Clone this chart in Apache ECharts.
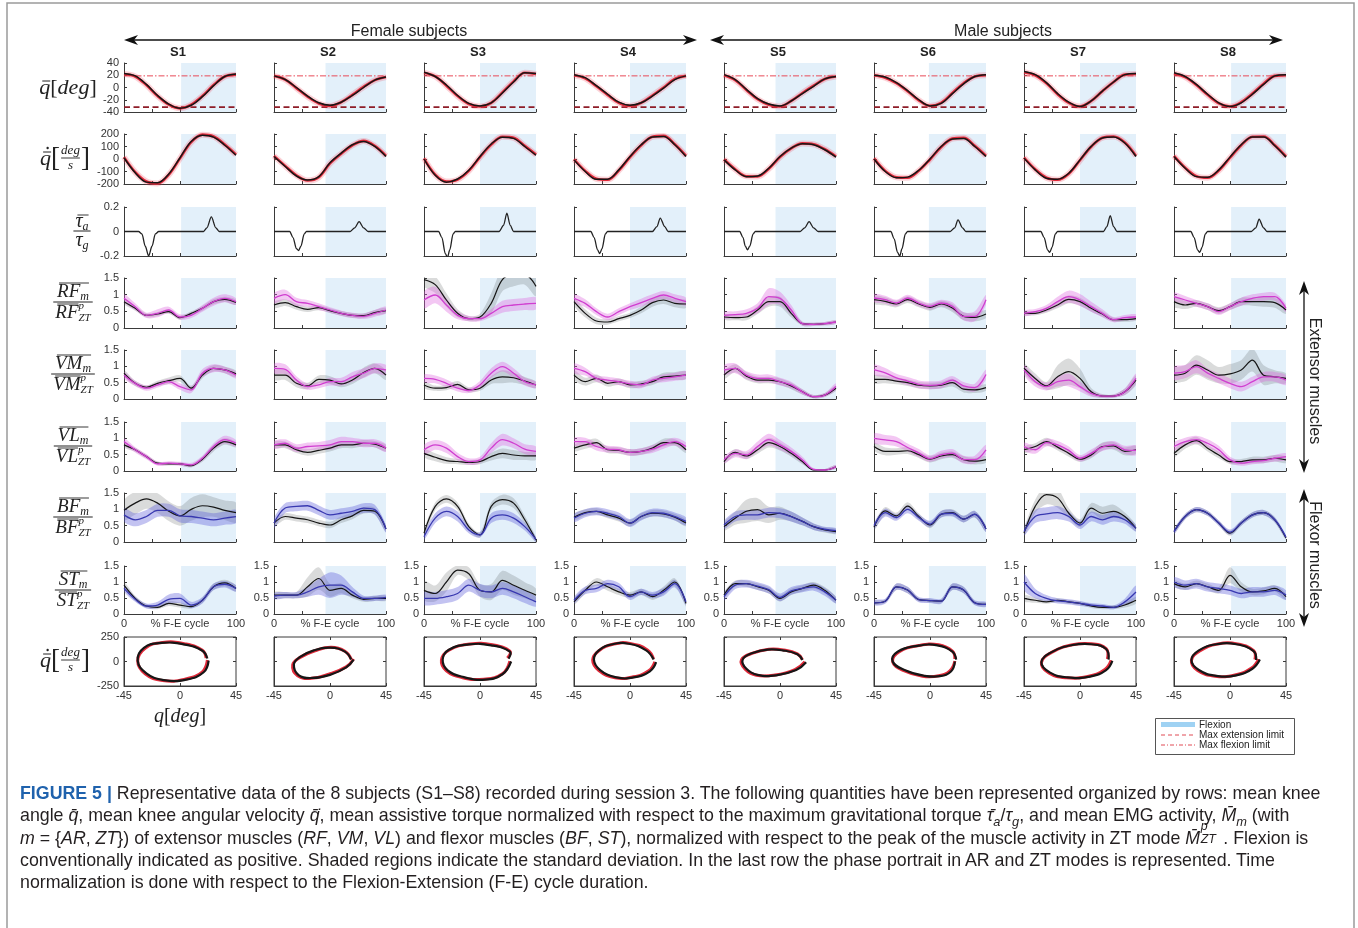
<!DOCTYPE html>
<html><head><meta charset="utf-8">
<script src="https://cdn.jsdelivr.net/npm/echarts@6.0.0/dist/echarts.min.js"></script>
<style>
html,body{margin:0;padding:0;background:#fff;}
#main{position:absolute;left:0;top:0;width:1358px;height:928px;}
#cap{position:absolute;left:20px;top:782px;font-family:"Liberation Sans",Arial,sans-serif;font-size:17.8px;line-height:22px;color:#231f20;white-space:nowrap;}
#cap b{color:#1f62ad;}
#cap sub,#cap sup{font-size:0.72em;line-height:0;}
#cap .ss{display:inline-block;position:relative;width:1.3em;height:1em;line-height:1;}
#cap .ss i{position:absolute;left:0.05em;font-size:0.7em;line-height:1;}
#cap .ss .p{top:-0.45em;}
#cap .ss .z{top:0.55em;}
</style></head><body>
<div id="main"></div>
<div id="cap">
<b>FIGURE 5 |</b> Representative data of the 8 subjects (S1–S8) recorded during session 3. The following quantities have been represented organized by rows: mean knee<br>
angle <i>q&#772;</i>, mean knee angular velocity <i>q&#772;&#775;</i>, mean assistive torque normalized with respect to the maximum gravitational torque <i>τ&#772;<sub>a</sub></i>/<i>τ<sub>g</sub></i>, and mean EMG activity, <i>M&#772;<sub>m</sub></i> (with<br>
<i>m</i> = {<i>AR</i>, <i>ZT</i>}) of extensor muscles (<i>RF</i>, <i>VM</i>, <i>VL</i>) and flexor muscles (<i>BF</i>, <i>ST</i>), normalized with respect to the peak of the muscle activity in ZT mode <i>M&#772;</i><span class="ss"><i class="p">p</i><i class="z">ZT</i></span>. Flexion is<br>
conventionally indicated as positive. Shaded regions indicate the standard deviation. In the last row the phase portrait in AR and ZT modes is represented. Time<br>
normalization is done with respect to the Flexion-Extension (F-E) cycle duration.
</div>
<script>
// ================= DATA =================
const SUBJECTS = ['S1','S2','S3','S4','S5','S6','S7','S8'];
const PCT = [0,10,20,30,40,50,60,70,80,90,100];           // % F-E cycle sample points
const PCT_TICKS = [0,25,50,75,100];
const Q_TICKS = [-40,-20,0,20,40];
const QD_TICKS = [-200,-100,0,100,200];
const TQ_TICKS = [-0.2,0,0.2];
const EMG_TICKS = [0,0.5,1,1.5];
const PH_Q_TICKS = [-45,0,45];
const PH_QD_TICKS = [-250,0,250];
const FLEX_START = [51,46,50,50,46,49,50,51];   // start of flexion phase (%)
const FLEX_END = [100,100,100,100,100,100,100,100];
const LIM_FLEX = [19,19,19,19,19,19,19,19];     // max flexion limit (deg)
const LIM_EXT = [-32,-32,-32,-32,-32,-32,-32,-32]; // max extension limit (deg)

// knee angle (deg)
const Q_ZT = [
 [23,19,5,-13,-27,-34,-29,-15,3,18,22],
 [19,13,0,-14,-25,-29,-24,-13,0,12,17],
 [25,18,4,-13,-26,-30,-25,-9,9,24,23],
 [21,16,3,-11,-24,-29,-25,-14,-1,13,19],
 [21,13,-3,-18,-27,-30,-22,-10,2,14,18],
 [20,17,8,-5,-20,-30,-26,-10,6,18,21],
 [26,21,8,-10,-24,-31,-22,-6,9,21,23],
 [24,18,5,-11,-25,-31,-25,-11,5,19,21]];
const Q_AR = [
 [22,18,4,-14,-28,-34,-28,-14,4,18,21],
 [19,13,-1,-15,-26,-30,-24,-12,1,12,17],
 [24,18,3,-14,-27,-31,-25,-8,10,24,22],
 [20,15,2,-12,-25,-30,-25,-13,0,14,19],
 [20,12,-4,-19,-28,-31,-22,-9,3,14,18],
 [20,16,7,-6,-21,-30,-25,-9,7,18,20],
 [25,20,7,-11,-25,-31,-22,-6,9,21,22],
 [23,17,4,-12,-26,-31,-24,-10,6,19,20]];
// knee angular velocity (deg/s)
const QD_ZT = [
 [10,-110,-185,-190,-120,10,140,190,175,110,30],
 [20,-60,-136,-168,-141,-30,47,114,141,101,20],
 [0,-130,-185,-160,-90,20,120,175,165,100,30],
 [-7,-100,-162,-162,-87,20,114,176,181,114,20],
 [-7,-87,-141,-136,-74,20,87,122,114,74,15],
 [0,-100,-150,-145,-90,0,100,160,165,100,20],
 [7,-87,-154,-162,-114,-7,101,168,176,128,20],
 [20,-74,-141,-146,-87,15,114,176,176,106,15]];
const QD_AR = [
 [15,-105,-180,-195,-125,5,135,195,180,115,35],
 [25,-55,-130,-172,-146,-35,42,110,145,105,25],
 [5,-125,-180,-165,-95,15,115,178,170,105,35],
 [-2,-95,-158,-166,-92,15,110,178,185,118,25],
 [-2,-82,-138,-140,-78,16,85,125,118,78,20],
 [5,-95,-146,-150,-94,-4,96,163,170,105,25],
 [12,-82,-150,-166,-118,-10,98,170,180,132,25],
 [25,-70,-137,-150,-92,10,110,178,180,110,20]];
// assistive torque / gravitational torque, [% cycle, value]
const TQ = [
 [[0,0],[13,0],[16,-0.02],[19,-0.12],[22,-0.2],[25,-0.12],[28,-0.02],[31,0],[71,0],[74,0.03],[78,0.12],[82,0.03],[85,0],[100,0]],
 [[0,0],[14,0],[17,-0.05],[20,-0.14],[22,-0.155],[24,-0.12],[27,-0.02],[29,0],[68,0],[72,0.03],[76,0.08],[80,0.03],[84,0],[100,0]],
 [[0,0],[13,0],[16,-0.05],[19,-0.18],[21,-0.21],[23,-0.15],[26,-0.02],[28,0],[67,0],[71,0.05],[74,0.15],[77,0.05],[80,0],[100,0]],
 [[0,0],[15,0],[18,-0.05],[21,-0.15],[23,-0.18],[25,-0.14],[28,-0.02],[30,0],[70,0],[74,0.04],[77,0.11],[81,0.04],[84,0],[100,0]],
 [[0,0],[14,0],[17,-0.05],[19,-0.12],[21,-0.15],[23,-0.12],[26,-0.02],[28,0],[68,0],[72,0.03],[76,0.08],[80,0.03],[84,0],[100,0]],
 [[0,0],[15,0],[18,-0.06],[21,-0.17],[23,-0.2],[25,-0.14],[28,-0.02],[30,0],[68,0],[72,0.03],[75,0.095],[79,0.03],[82,0],[100,0]],
 [[0,0],[15,0],[18,-0.05],[21,-0.15],[23,-0.17],[25,-0.13],[28,-0.02],[30,0],[71,0],[74,0.04],[77,0.13],[80,0.04],[83,0],[100,0]],
 [[0,0],[15,0],[18,-0.05],[21,-0.15],[23,-0.17],[25,-0.13],[28,-0.02],[30,0],[69,0],[73,0.03],[76,0.1],[80,0.03],[83,0],[100,0]]];

// normalized EMG: mean and standard deviation, ZT (black) and AR (coloured)
const RF_ZT = [
 [0.79,0.59,0.38,0.42,0.49,0.31,0.44,0.59,0.79,0.86,0.77],
 [0.69,0.76,0.64,0.56,0.61,0.52,0.44,0.38,0.37,0.46,0.52],
 [1.45,1.30,0.84,0.44,0.28,0.33,0.74,1.45,1.60,1.60,1.25],
 [0.79,0.44,0.21,0.18,0.28,0.38,0.54,0.76,0.84,0.74,0.72],
 [0.33,0.31,0.33,0.54,0.79,0.79,0.44,0.13,0.11,0.13,0.18],
 [0.85,0.80,0.72,0.85,0.72,0.62,0.72,0.60,0.35,0.32,0.42],
 [0.44,0.44,0.54,0.69,0.86,0.79,0.59,0.42,0.25,0.25,0.28],
 [0.79,0.69,0.74,0.64,0.52,0.64,0.79,0.79,0.79,0.76,0.54]];
const RF_ZT_SD = [
 [0.08,0.07,0.06,0.06,0.06,0.06,0.06,0.07,0.08,0.08,0.08],
 [0.1,0.1,0.09,0.08,0.08,0.07,0.07,0.07,0.07,0.08,0.08],
 [0.2,0.25,0.2,0.12,0.08,0.1,0.3,0.35,0.35,0.3,0.3],
 [0.12,0.12,0.1,0.08,0.08,0.08,0.1,0.12,0.12,0.12,0.12],
 [0.08,0.08,0.1,0.12,0.15,0.15,0.12,0.06,0.05,0.05,0.05],
 [0.12,0.12,0.1,0.1,0.1,0.1,0.1,0.12,0.12,0.12,0.12],
 [0.06,0.06,0.08,0.1,0.12,0.12,0.1,0.08,0.06,0.06,0.06],
 [0.15,0.12,0.1,0.1,0.1,0.1,0.12,0.12,0.15,0.15,0.12]];
const RF_AR = [
 [0.89,0.64,0.38,0.44,0.54,0.33,0.38,0.59,0.79,0.89,0.79],
 [0.89,1.00,0.79,0.74,0.64,0.54,0.44,0.38,0.35,0.44,0.54],
 [0.84,0.99,0.69,0.38,0.28,0.28,0.44,0.64,0.69,0.72,0.74],
 [0.89,0.74,0.49,0.33,0.49,0.64,0.76,0.89,0.99,0.89,0.79],
 [0.38,0.40,0.44,0.59,0.94,0.89,0.54,0.13,0.11,0.13,0.18],
 [0.90,0.85,0.75,0.90,0.75,0.65,0.75,0.65,0.35,0.35,0.85],
 [0.44,0.49,0.59,0.79,0.94,0.84,0.64,0.44,0.25,0.31,0.33],
 [0.94,0.84,0.74,0.64,0.49,0.64,0.79,0.89,0.94,0.94,0.59]];
const RF_AR_SD = [
 [0.12,0.1,0.08,0.12,0.1,0.08,0.08,0.1,0.12,0.12,0.1],
 [0.15,0.15,0.12,0.1,0.1,0.08,0.08,0.08,0.08,0.1,0.1],
 [0.25,0.25,0.2,0.12,0.08,0.08,0.12,0.18,0.18,0.18,0.18],
 [0.12,0.12,0.1,0.1,0.1,0.1,0.12,0.12,0.12,0.12,0.12],
 [0.1,0.1,0.12,0.15,0.25,0.2,0.15,0.06,0.05,0.05,0.05],
 [0.12,0.12,0.1,0.1,0.1,0.1,0.1,0.12,0.12,0.15,0.15],
 [0.08,0.08,0.1,0.15,0.18,0.18,0.15,0.12,0.08,0.08,0.08],
 [0.12,0.12,0.1,0.1,0.1,0.1,0.12,0.12,0.12,0.12,0.12]];

const VM_ZT = [
 [0.79,0.48,0.36,0.48,0.56,0.63,0.33,0.73,0.94,0.89,0.77],
 [0.73,0.73,0.48,0.40,0.60,0.58,0.46,0.58,0.81,0.94,0.73],
 [0.43,0.33,0.35,0.45,0.28,0.33,0.58,0.68,0.65,0.55,0.43],
 [0.73,0.53,0.63,0.48,0.53,0.43,0.46,0.53,0.68,0.70,0.73],
 [0.73,0.94,0.70,0.58,0.58,0.53,0.40,0.22,0.07,0.12,0.33],
 [0.60,0.60,0.55,0.50,0.42,0.40,0.42,0.50,0.30,0.28,0.35],
 [0.94,0.63,0.40,0.68,0.84,0.63,0.22,0.09,0.09,0.22,0.58],
 [0.73,0.79,1.04,0.89,0.73,0.77,0.89,1.19,0.73,0.68,0.63]];
const VM_ZT_SD = [
 [0.1,0.08,0.06,0.08,0.1,0.1,0.08,0.1,0.1,0.1,0.1],
 [0.15,0.15,0.12,0.1,0.12,0.12,0.1,0.12,0.15,0.15,0.15],
 [0.1,0.08,0.08,0.1,0.08,0.08,0.12,0.2,0.15,0.12,0.1],
 [0.15,0.12,0.12,0.1,0.1,0.1,0.1,0.1,0.12,0.12,0.12],
 [0.12,0.12,0.12,0.1,0.1,0.1,0.1,0.08,0.05,0.06,0.08],
 [0.12,0.12,0.1,0.1,0.1,0.1,0.1,0.12,0.1,0.1,0.1],
 [0.15,0.15,0.12,0.35,0.4,0.3,0.12,0.06,0.05,0.1,0.15],
 [0.2,0.25,0.3,0.3,0.25,0.3,0.3,0.35,0.3,0.2,0.15]];
const VM_AR = [
 [0.73,0.48,0.33,0.43,0.53,0.38,0.28,0.79,0.94,0.89,0.73],
 [0.94,0.91,0.58,0.38,0.43,0.53,0.53,0.68,0.79,0.94,0.89],
 [0.63,0.60,0.48,0.33,0.26,0.43,0.79,0.99,0.79,0.53,0.43],
 [0.94,0.84,0.63,0.58,0.53,0.46,0.43,0.58,0.63,0.68,0.73],
 [0.89,0.94,0.73,0.63,0.63,0.53,0.43,0.22,0.07,0.12,0.38],
 [0.90,0.80,0.65,0.55,0.45,0.42,0.45,0.58,0.40,0.35,0.75],
 [0.89,0.53,0.38,0.53,0.58,0.38,0.17,0.09,0.09,0.22,0.63],
 [0.79,0.84,0.99,0.79,0.63,0.48,0.38,0.53,0.68,0.68,0.58]];
const VM_AR_SD = [
 [0.1,0.08,0.08,0.08,0.08,0.1,0.1,0.12,0.12,0.1,0.1],
 [0.15,0.15,0.12,0.1,0.1,0.12,0.12,0.15,0.15,0.15,0.15],
 [0.12,0.12,0.12,0.1,0.08,0.12,0.15,0.15,0.15,0.12,0.1],
 [0.15,0.12,0.1,0.1,0.1,0.1,0.1,0.1,0.12,0.12,0.12],
 [0.15,0.15,0.12,0.12,0.12,0.12,0.1,0.08,0.05,0.06,0.1],
 [0.15,0.15,0.12,0.12,0.12,0.12,0.12,0.12,0.12,0.12,0.15],
 [0.15,0.15,0.12,0.15,0.2,0.15,0.1,0.05,0.05,0.1,0.15],
 [0.2,0.2,0.2,0.15,0.15,0.15,0.15,0.15,0.15,0.15,0.15]];

const VL_ZT = [
 [0.80,0.65,0.44,0.24,0.22,0.22,0.16,0.36,0.70,0.90,0.80],
 [0.80,0.80,0.65,0.57,0.63,0.70,0.80,0.80,0.85,0.82,0.70],
 [0.54,0.42,0.32,0.29,0.26,0.29,0.44,0.54,0.49,0.46,0.46],
 [0.70,0.80,0.87,0.65,0.63,0.57,0.60,0.70,0.87,0.87,0.65],
 [0.29,0.57,0.46,0.65,0.87,0.75,0.54,0.29,0.03,0.03,0.13],
 [0.75,0.60,0.60,0.62,0.50,0.36,0.46,0.50,0.35,0.30,0.35],
 [0.65,0.75,0.90,0.73,0.54,0.36,0.49,0.75,0.77,0.60,0.65],
 [0.54,0.80,0.93,0.70,0.49,0.29,0.29,0.34,0.34,0.39,0.34]];
const VL_ZT_SD = [
 [0.08,0.06,0.06,0.05,0.05,0.05,0.05,0.08,0.1,0.1,0.08],
 [0.1,0.1,0.1,0.1,0.1,0.1,0.1,0.1,0.1,0.1,0.1],
 [0.12,0.12,0.1,0.08,0.08,0.08,0.12,0.15,0.15,0.12,0.12],
 [0.1,0.12,0.12,0.1,0.1,0.1,0.1,0.1,0.12,0.1,0.1],
 [0.08,0.1,0.1,0.12,0.15,0.12,0.1,0.08,0.03,0.03,0.05],
 [0.12,0.12,0.1,0.1,0.1,0.1,0.1,0.1,0.1,0.1,0.1],
 [0.1,0.1,0.12,0.1,0.1,0.08,0.1,0.12,0.12,0.12,0.12],
 [0.12,0.12,0.12,0.1,0.1,0.08,0.08,0.1,0.1,0.1,0.1]];
const VL_AR = [
 [0.90,0.65,0.44,0.22,0.24,0.22,0.19,0.39,0.75,0.96,0.85],
 [0.80,0.85,0.70,0.75,0.77,0.80,0.90,0.90,0.85,0.85,0.70],
 [0.65,0.80,0.70,0.44,0.29,0.34,0.70,0.96,0.85,0.67,0.60],
 [0.90,0.90,0.75,0.67,0.65,0.57,0.60,0.67,0.80,0.90,0.75],
 [0.34,0.54,0.49,0.75,0.96,0.80,0.60,0.34,0.05,0.03,0.13],
 [1.00,0.95,0.90,0.72,0.55,0.38,0.50,0.55,0.35,0.35,0.65],
 [0.75,0.65,0.87,0.80,0.63,0.39,0.54,0.73,0.80,0.65,0.63],
 [0.75,0.90,0.96,0.85,0.65,0.34,0.24,0.29,0.32,0.39,0.44]];
const VL_AR_SD = [
 [0.1,0.08,0.08,0.06,0.06,0.06,0.06,0.08,0.1,0.12,0.1],
 [0.12,0.12,0.12,0.12,0.12,0.15,0.15,0.12,0.12,0.12,0.12],
 [0.15,0.15,0.15,0.12,0.1,0.1,0.15,0.18,0.15,0.15,0.15],
 [0.12,0.12,0.12,0.1,0.1,0.1,0.1,0.12,0.12,0.12,0.12],
 [0.1,0.12,0.12,0.15,0.18,0.15,0.12,0.1,0.04,0.03,0.05],
 [0.15,0.15,0.15,0.12,0.12,0.1,0.12,0.12,0.12,0.12,0.15],
 [0.12,0.12,0.12,0.12,0.12,0.1,0.12,0.12,0.12,0.12,0.15],
 [0.12,0.12,0.12,0.12,0.12,0.1,0.08,0.08,0.08,0.1,0.1]];

const BF_ZT = [
 [0.97,1.19,1.32,1.19,0.94,0.80,1.00,1.11,1.07,0.97,0.90],
 [0.58,0.78,0.73,0.68,0.58,0.52,0.68,0.80,0.97,0.94,0.40],
 [0.27,1.09,1.32,1.09,0.47,0.22,1.09,1.30,1.19,0.68,0.06],
 [0.76,0.90,0.94,0.83,0.73,0.58,0.78,0.88,0.86,0.76,0.58],
 [0.47,0.73,0.94,0.99,0.83,0.88,0.78,0.63,0.47,0.37,0.32],
 [0.45,0.95,0.80,1.10,0.78,0.52,0.85,0.90,0.70,0.85,0.40],
 [0.27,1.09,1.45,1.35,0.88,0.58,1.04,0.88,0.94,0.78,0.42],
 [0.32,0.78,0.99,0.88,0.58,0.27,0.58,0.83,0.90,0.68,0.12]];
const BF_ZT_SD = [
 [0.3,0.35,0.3,0.3,0.3,0.3,0.35,0.35,0.3,0.3,0.3],
 [0.1,0.1,0.1,0.1,0.1,0.1,0.1,0.1,0.1,0.1,0.1],
 [0.1,0.12,0.12,0.12,0.1,0.08,0.12,0.15,0.15,0.12,0.08],
 [0.1,0.1,0.1,0.1,0.1,0.1,0.1,0.1,0.1,0.1,0.1],
 [0.12,0.2,0.35,0.35,0.25,0.2,0.15,0.12,0.1,0.08,0.08],
 [0.1,0.12,0.1,0.12,0.1,0.1,0.1,0.1,0.1,0.1,0.1],
 [0.12,0.2,0.3,0.3,0.15,0.12,0.15,0.2,0.2,0.12,0.1],
 [0.08,0.08,0.08,0.08,0.08,0.08,0.08,0.08,0.08,0.08,0.06]];
const BF_AR = [
 [0.83,0.68,0.78,0.97,0.97,0.80,0.78,0.73,0.68,0.73,0.78],
 [0.58,1.04,1.09,1.11,0.97,0.83,0.88,0.94,1.04,0.99,0.40],
 [0.16,0.73,0.94,0.78,0.37,0.22,0.73,0.83,0.73,0.47,0.08],
 [0.73,0.88,0.94,0.88,0.78,0.58,0.78,0.90,0.88,0.78,0.63],
 [0.52,0.78,0.83,0.83,0.90,0.88,0.78,0.63,0.47,0.39,0.35],
 [0.50,0.90,0.75,1.00,0.75,0.55,0.85,0.88,0.70,0.85,0.40],
 [0.32,0.78,0.86,0.90,0.78,0.52,0.78,0.68,0.78,0.68,0.42],
 [0.32,0.78,0.99,0.88,0.58,0.30,0.58,0.83,0.90,0.68,0.15]];
const BF_AR_SD = [
 [0.2,0.2,0.2,0.2,0.2,0.2,0.2,0.2,0.2,0.2,0.2],
 [0.15,0.15,0.15,0.15,0.15,0.15,0.15,0.15,0.15,0.15,0.12],
 [0.1,0.15,0.15,0.15,0.1,0.08,0.15,0.15,0.15,0.12,0.08],
 [0.12,0.12,0.12,0.12,0.12,0.12,0.12,0.12,0.12,0.12,0.12],
 [0.12,0.15,0.15,0.15,0.15,0.15,0.15,0.12,0.1,0.08,0.08],
 [0.1,0.12,0.1,0.12,0.1,0.1,0.1,0.1,0.1,0.1,0.1],
 [0.12,0.2,0.2,0.2,0.15,0.12,0.15,0.15,0.15,0.12,0.1],
 [0.08,0.08,0.08,0.08,0.08,0.08,0.08,0.08,0.08,0.08,0.06]];

const ST_ZT = [
 [0.90,0.49,0.25,0.21,0.33,0.28,0.23,0.43,0.85,0.97,0.80],
 [0.59,0.59,0.59,0.85,1.11,0.74,0.80,0.59,0.46,0.49,0.49],
 [0.74,0.64,1.00,1.37,1.26,0.74,0.69,1.05,0.90,0.74,0.59],
 [0.38,0.74,1.00,0.85,0.69,0.59,0.69,0.54,0.74,1.00,0.33],
 [0.59,0.95,0.95,0.85,0.74,0.49,0.69,0.80,0.90,0.74,0.43],
 [0.35,0.40,0.85,0.75,0.45,0.42,0.40,0.85,0.75,0.35,0.30],
 [0.49,0.43,0.38,0.43,0.38,0.33,0.25,0.21,0.21,0.28,0.43],
 [0.95,0.85,0.95,0.85,0.74,1.21,0.85,0.69,0.72,0.80,0.54]];
const ST_ZT_SD = [
 [0.1,0.08,0.06,0.06,0.08,0.08,0.06,0.08,0.1,0.1,0.1],
 [0.1,0.1,0.1,0.3,0.35,0.2,0.15,0.1,0.08,0.08,0.08],
 [0.3,0.25,0.3,0.15,0.2,0.2,0.25,0.3,0.3,0.25,0.2],
 [0.1,0.1,0.12,0.12,0.1,0.1,0.1,0.1,0.12,0.12,0.1],
 [0.1,0.1,0.1,0.1,0.1,0.1,0.1,0.1,0.1,0.1,0.1],
 [0.06,0.06,0.1,0.1,0.06,0.06,0.06,0.1,0.1,0.06,0.06],
 [0.1,0.08,0.06,0.06,0.06,0.06,0.06,0.06,0.06,0.08,0.1],
 [0.1,0.1,0.1,0.1,0.1,0.25,0.15,0.1,0.1,0.1,0.1]];
const ST_AR = [
 [0.80,0.46,0.25,0.28,0.46,0.49,0.28,0.43,0.85,0.93,0.80],
 [0.56,0.59,0.59,0.69,0.85,0.90,0.90,0.69,0.49,0.49,0.52],
 [0.49,0.49,0.54,0.64,0.90,0.74,0.69,0.80,0.69,0.54,0.38],
 [0.43,0.74,0.80,0.95,0.85,0.54,0.69,0.59,0.69,0.95,0.38],
 [0.54,0.90,0.95,0.87,0.76,0.52,0.72,0.80,0.85,0.69,0.43],
 [0.35,0.40,0.85,0.75,0.45,0.42,0.40,0.85,0.75,0.35,0.30],
 [1.00,0.64,0.49,0.41,0.38,0.33,0.28,0.25,0.21,0.38,0.69],
 [1.00,0.90,0.95,0.85,0.80,0.74,0.64,0.69,0.69,0.74,0.59]];
const ST_AR_SD = [
 [0.1,0.08,0.08,0.1,0.15,0.15,0.1,0.1,0.1,0.1,0.1],
 [0.1,0.1,0.1,0.15,0.25,0.4,0.3,0.15,0.08,0.08,0.08],
 [0.2,0.2,0.2,0.2,0.2,0.2,0.2,0.2,0.2,0.2,0.15],
 [0.1,0.12,0.12,0.12,0.12,0.1,0.1,0.1,0.12,0.12,0.1],
 [0.12,0.12,0.12,0.12,0.12,0.12,0.12,0.12,0.12,0.12,0.1],
 [0.08,0.08,0.1,0.1,0.08,0.08,0.08,0.1,0.1,0.08,0.08],
 [0.25,0.15,0.1,0.08,0.08,0.08,0.06,0.06,0.06,0.1,0.2],
 [0.15,0.15,0.15,0.15,0.15,0.15,0.15,0.15,0.15,0.15,0.15]];

// ================= LAYOUT / STYLE =================
const COL_X0 = 124, COL_STEP = 150, PLOT_W = 112;
const ROW_TOP = [63,134,207,278,350,422,493,566,637];
const ROW_H = [49,50,49,50,49,49,49,48,49];
const AX = '#3a3a3a', TXT = '#222';
const FLEX_C = '#e3f0fa';
const RED = '#e02a3a', RED_HALO = 'rgba(235,60,80,0.22)', BLACK = '#161616';
const MAG = '#d03ed0', MAG_BAND = 'rgba(222,100,222,0.36)';
const BLU = '#3838b0', BLU_BAND = 'rgba(90,90,215,0.36)';
const GRAY_BAND = 'rgba(70,75,75,0.2)';
const SANS = '"Liberation Sans",Arial,Helvetica,sans-serif';
const SERIF = '"Liberation Serif","DejaVu Serif",serif';
const LBL = {fontSize: 11, color: '#333', fontFamily: SANS};

const grids = [], xAxis = [], yAxis = [], series = [];
function axisBase(extra){
  return Object.assign({type:'value', splitLine:{show:false},
    axisLine:{show:true, onZero:false, lineStyle:{color:AX, width:1}},
    axisTick:{show:true, inside:true, length:3, lineStyle:{color:AX, width:1}}}, extra);
}
function addGrid(r, c, xt, yt, o){
  const gi = grids.length;
  grids.push({left: COL_X0 + COL_STEP*c, top: ROW_TOP[r], width: PLOT_W, height: ROW_H[r],
    show: !!o.box, borderColor: AX, borderWidth: 1, backgroundColor: 'transparent'});
  const xi = xAxis.length, yi = yAxis.length;
  xAxis.push(axisBase({gridIndex: gi, min: xt[0], max: xt[xt.length-1], interval: xt[1]-xt[0],
    axisLabel: Object.assign({show: !!o.xl, margin: 4, showMinLabel: true, showMaxLabel: true, hideOverlap: false,
      formatter: o.xfmt || (v => String(v))}, LBL),
    name: o.xname || '', nameLocation: 'middle', nameGap: 4, nameMoveOverlap: false,
    nameTextStyle: Object.assign({verticalAlign: 'top'}, LBL)}));
  yAxis.push(axisBase({gridIndex: gi, min: yt[0], max: yt[yt.length-1], interval: yt[1]-yt[0],
    axisLabel: Object.assign({show: !!o.yl, margin: 5, showMinLabel: true, showMaxLabel: true}, LBL)}));
  if (o.box) {
    xAxis.push(axisBase({gridIndex: gi, position: 'top', min: xt[0], max: xt[xt.length-1], interval: xt[1]-xt[0],
      axisLine:{show:false, onZero:false}, axisLabel:{show:false}}));
    yAxis.push(axisBase({gridIndex: gi, position: 'right', min: yt[0], max: yt[yt.length-1], interval: yt[1]-yt[0],
      axisLine:{show:false, onZero:false}, axisLabel:{show:false}}));
  }
  return {xi, yi};
}
function pts(xs, ys){ return xs.map((x,i) => [x, ys[i]]); }
function addLine(ax, data, color, width, z, extra){
  series.push(Object.assign({type:'line', xAxisIndex: ax.xi, yAxisIndex: ax.yi, data, symbol:'none',
    smooth: 0.35, silent: true, z, lineStyle:{color, width}}, extra || {}));
}
// standard-deviation band: polygon through mean+sd (forward) and mean-sd (backward), via the axis scales
function addBand(ax, mean, sd, color, z){
  const hi = PCT.map((x,i) => [x, mean[i] + sd[i]]);
  const lo = PCT.map((x,i) => [x, mean[i] - sd[i]]);
  series.push({type:'custom', xAxisIndex: ax.xi, yAxisIndex: ax.yi, silent:true, z, clip:true,
    data: PCT.map((x,i) => [x, mean[i] - sd[i], mean[i] + sd[i]]),
    renderItem: function(params, api){
      if (params.dataIndex !== 0) return null;
      const up = hi.map(p => api.coord(p));
      const dn = lo.map(p => api.coord(p)).reverse();
      return {type:'polygon', shape:{points: up.concat(dn), smooth: 0.3}, style:{fill: color}};
    }});
}
// phase portrait loop: smooth polyline through the (q, qdot) samples, via the axis scales
function addLoop(ax, q, qd, color, width, z){
  const P = q.map((v,i) => [v, qd[i]]);
  series.push({type:'custom', xAxisIndex: ax.xi, yAxisIndex: ax.yi, silent:true, z, clip:true,
    data: P,
    renderItem: function(params, api){
      if (params.dataIndex !== 0) return null;
      return {type:'polyline', shape:{points: P.map(p => api.coord(p)), smooth: 0.45},
        style:{stroke: color, lineWidth: width, fill: null, lineJoin:'round'}};
    }});
}
function addShade(ax, c, yt){
  const top = yt[yt.length-1];
  series.push({type:'line', xAxisIndex: ax.xi, yAxisIndex: ax.yi, symbol:'none', silent:true, z:1,
    data: [[FLEX_START[c], top], [FLEX_END[c], top]], lineStyle:{width:0, opacity:0},
    areaStyle:{color: FLEX_C, opacity:1, origin:'start'}});
}

const MUSCLES = [
  {name:'RF', zt:RF_ZT, ztsd:RF_ZT_SD, ar:RF_AR, arsd:RF_AR_SD, col:MAG, band:MAG_BAND},
  {name:'VM', zt:VM_ZT, ztsd:VM_ZT_SD, ar:VM_AR, arsd:VM_AR_SD, col:MAG, band:MAG_BAND},
  {name:'VL', zt:VL_ZT, ztsd:VL_ZT_SD, ar:VL_AR, arsd:VL_AR_SD, col:MAG, band:MAG_BAND},
  {name:'BF', zt:BF_ZT, ztsd:BF_ZT_SD, ar:BF_AR, arsd:BF_AR_SD, col:BLU, band:BLU_BAND},
  {name:'ST', zt:ST_ZT, ztsd:ST_ZT_SD, ar:ST_AR, arsd:ST_AR_SD, col:BLU, band:BLU_BAND}];

for (let c = 0; c < SUBJECTS.length; c++) {
  let ax = addGrid(0, c, PCT_TICKS, Q_TICKS, {yl: c === 0});
  addShade(ax, c, Q_TICKS);
  addLine(ax, [[0, LIM_FLEX[c]], [100, LIM_FLEX[c]]], '#e84a58', 1, 3, {smooth:false, lineStyle:{color:'#e84a58', width:1, type:[6,2,1.5,2]}});
  addLine(ax, [[0, LIM_EXT[c]], [100, LIM_EXT[c]]], '#9a1f2c', 1.8, 3, {smooth:false, lineStyle:{color:'#8e1d28', width:1.8, type:[6,3.5]}});
  addLine(ax, pts(PCT, Q_AR[c]), RED_HALO, 6, 4);
  addLine(ax, pts(PCT, Q_AR[c]), RED, 2.6, 5);
  addLine(ax, pts(PCT, Q_ZT[c]), BLACK, 1.5, 6);
  ax = addGrid(1, c, PCT_TICKS, QD_TICKS, {yl: c === 0});
  addShade(ax, c, QD_TICKS);
  addLine(ax, pts(PCT, QD_AR[c]), RED_HALO, 6, 4);
  addLine(ax, pts(PCT, QD_AR[c]), RED, 2.6, 5);
  addLine(ax, pts(PCT, QD_ZT[c]), BLACK, 1.5, 6);
  ax = addGrid(2, c, PCT_TICKS, TQ_TICKS, {yl: c === 0});
  addShade(ax, c, TQ_TICKS);
  addLine(ax, TQ[c], '#222', 1.3, 5, {smooth: 0.3, smoothMonotone: 'x'});
  MUSCLES.forEach((m, k) => {
    const r = 3 + k;
    const last = r === 7;
    const a = addGrid(r, c, PCT_TICKS, EMG_TICKS, {yl: c === 0 || last, xl: last,
      xfmt: v => (v === 0 || v === 100) ? String(v) : '', xname: last ? '% F-E cycle' : ''});
    addShade(a, c, EMG_TICKS);
    addBand(a, m.zt[c], m.ztsd[c], GRAY_BAND, 2);
    addBand(a, m.ar[c], m.arsd[c], m.band, 3);
    addLine(a, pts(PCT, m.zt[c]), BLACK, 1.2, 5);
    addLine(a, pts(PCT, m.ar[c]), m.col, 1.3, 6);
  });
  ax = addGrid(8, c, PH_Q_TICKS, PH_QD_TICKS, {box: true, xl: true, yl: c === 0});
  addLoop(ax, Q_AR[c], QD_AR[c], RED, 3, 5);
  addLoop(ax, Q_ZT[c], QD_ZT[c], BLACK, 2.2, 6);
}

// ================= GRAPHIC TEXT / DECORATION =================
const G = [];
const mctx = document.createElement('canvas').getContext('2d');
function fnt(s, it, fam, bold){ return (it ? 'italic ' : '') + (bold ? 'bold ' : '') + s + 'px ' + (fam || SERIF); }
function tw(t, s, it, fam){ mctx.font = fnt(s, it, fam); return mctx.measureText(t).width; }
function txt(t, x, y, s, it, o){
  o = o || {};
  const al = o.align || 'left';
  G.push({type:'text', silent:true, z:100, style:{text:t, x, y, font: fnt(s, it, o.fam, o.bold), fill: o.fill || TXT,
    align: al, textAlign: al, verticalAlign:'middle', textVerticalAlign:'middle'}});
}
function hl(x1, x2, y, w){ G.push({type:'line', silent:true, z:100, shape:{x1, y1:y, x2, y2:y}, style:{stroke:TXT, lineWidth: w || 1}}); }
function seq(parts, cx, cy){
  const ws = parts.map(p => p.w0 ? 0 : (p.t ? tw(p.t, p.s, p.it) : 0) + (p.pad || 0));
  const total = ws.reduce((a,b) => a+b, 0);
  let x = cx - total/2; const pos = [];
  parts.forEach((p,i) => { pos.push(x); if (p.t) txt(p.t, x, cy + (p.dy || 0), p.s, p.it); x += ws[i]; });
  return {x0: cx - total/2, x1: cx + total/2, pos, ws};
}
function muscleLabel(M, cyLine){
  const cx = 73;
  const a = seq([{t:M, s:19, it:true}, {t:'m', s:12, it:true, dy:5}], cx, cyLine - 10);
  const b = seq([{t:M, s:19, it:true}, {t:'p', s:11, it:true, dy:-7, w0:true}, {t:'ZT', s:11, it:true, dy:5}], cx, cyLine + 11);
  hl(Math.min(a.x0, b.x0) - 2, Math.max(a.x1, b.x1) + 2, cyLine, 1);
  hl(a.x0 + 2, a.x1, cyLine - 10 - 9, 0.9);
  hl(b.x0 + 2, b.pos[1], cyLine + 11 - 9, 0.9);
}
MUSCLES.forEach((m, k) => muscleLabel(m.name, ROW_TOP[3+k] + 24));
(function(){
  const cx = 82, cy = 231;
  const a = seq([{t:'τ', s:20, it:true}, {t:'a', s:12, it:true, dy:5}], cx, cy - 9);
  const b = seq([{t:'τ', s:20, it:true}, {t:'g', s:12, it:true, dy:5}], cx, cy + 10);
  hl(Math.min(a.x0, b.x0) - 2, Math.max(a.x1, b.x1) + 2, cy, 1);
  hl(a.x0 + 2, a.x1, cy - 9 - 7, 0.9);
})();
(function(){
  const r = seq([{t:'q', s:22, it:true}, {t:'[', s:22}, {t:'deg', s:22, it:true}, {t:']', s:22}], 68, 88);
  hl(r.pos[0] + 3, r.pos[0] + r.ws[0], 81, 1);
})();
function qdotLabel(cx, cy){
  const wd = tw('deg', 13, true) + 2;
  const r = seq([{t:'q', s:22, it:true}, {t:'[', s:27}, {t:'', pad: wd}, {t:']', s:27}], cx, cy);
  hl(r.pos[0] + 3, r.pos[0] + r.ws[0], cy - 7, 1);
  G.push({type:'circle', silent:true, z:100, shape:{cx: r.pos[0] + r.ws[0]/2 + 2, cy: cy - 11, r: 1.2}, style:{fill:TXT}});
  const fx = r.pos[2] + r.ws[2]/2;
  txt('deg', fx, cy - 8, 13, true, {align:'center'});
  hl(r.pos[2] + 1, r.pos[2] + r.ws[2] - 1, cy - 1, 0.9);
  txt('s', fx, cy + 7, 13, true, {align:'center'});
}
qdotLabel(65, 159);
qdotLabel(65, 661);
seq([{t:'q', s:20, it:true}, {t:'[', s:20}, {t:'deg', s:20, it:true}, {t:']', s:20}], 180, 717);

function arrowH(x1, x2, y){
  G.push({type:'line', silent:true, z:100, shape:{x1: x1 + 8, y1: y, x2: x2 - 8, y2: y}, style:{stroke:'#111', lineWidth:1.3}});
  G.push({type:'polygon', silent:true, z:100, shape:{points:[[x1,y],[x1+14,y-5],[x1+10,y],[x1+14,y+5]]}, style:{fill:'#111'}});
  G.push({type:'polygon', silent:true, z:100, shape:{points:[[x2,y],[x2-14,y-5],[x2-10,y],[x2-14,y+5]]}, style:{fill:'#111'}});
}
function arrowV(x, y1, y2){
  G.push({type:'line', silent:true, z:100, shape:{x1: x, y1: y1 + 8, x2: x, y2: y2 - 8}, style:{stroke:'#111', lineWidth:1.3}});
  G.push({type:'polygon', silent:true, z:100, shape:{points:[[x,y1],[x-5,y1+14],[x,y1+10],[x+5,y1+14]]}, style:{fill:'#111'}});
  G.push({type:'polygon', silent:true, z:100, shape:{points:[[x,y2],[x-5,y2-14],[x,y2-10],[x+5,y2-14]]}, style:{fill:'#111'}});
}
txt('Female subjects', 409, 32, 16, false, {fam:SANS, align:'center'});
txt('Male subjects', 1003, 32, 16, false, {fam:SANS, align:'center'});
arrowH(124, 697, 40);
arrowH(710, 1283, 40);
SUBJECTS.forEach((s, c) => txt(s, COL_X0 + COL_STEP*c + 54, 52, 13, false, {fam:SANS, align:'center', bold:true}));
arrowV(1304, 281, 473);
arrowV(1304, 489, 627);
G.push({type:'text', silent:true, z:100, x:1314, y:381, rotation:-Math.PI/2,
  style:{text:'Extensor muscles', font: fnt(16, false, SANS), fill: TXT, align:'center', textAlign:'center', verticalAlign:'middle', textVerticalAlign:'middle'}});
G.push({type:'text', silent:true, z:100, x:1314, y:555, rotation:-Math.PI/2,
  style:{text:'Flexor muscles', font: fnt(16, false, SANS), fill: TXT, align:'center', textAlign:'center', verticalAlign:'middle', textVerticalAlign:'middle'}});

G.push({type:'rect', silent:true, z:100, shape:{x:1155.5, y:718.5, width:139, height:36}, style:{fill:'#fff', stroke:'#555', lineWidth:1}});
G.push({type:'rect', silent:true, z:101, shape:{x:1161, y:722, width:34, height:5}, style:{fill:'#9fd2f3'}});
G.push({type:'line', silent:true, z:101, shape:{x1:1161, y1:735, x2:1195, y2:735}, style:{stroke:'#e04a55', lineWidth:1, lineDash:[4,3]}});
G.push({type:'line', silent:true, z:101, shape:{x1:1161, y1:745, x2:1195, y2:745}, style:{stroke:'#e04a55', lineWidth:1, lineDash:[4,2,1,2]}});
txt('Flexion', 1199, 725, 10, false, {fam:SANS});
txt('Max extension limit', 1199, 735, 10, false, {fam:SANS});
txt('Max flexion limit', 1199, 745, 10, false, {fam:SANS});

G.push({type:'rect', silent:true, z:99, shape:{x:7, y:3, width:1347, height:950}, style:{fill:'none', stroke:'#9a9a9a', lineWidth:1.5}});

const chart = echarts.init(document.getElementById('main'), null, {renderer:'canvas', width:1358, height:928});
chart.setOption({animation:false, backgroundColor:'#fff', grid:grids, xAxis, yAxis, series, graphic:{elements:G}});
</script>
</body></html>
